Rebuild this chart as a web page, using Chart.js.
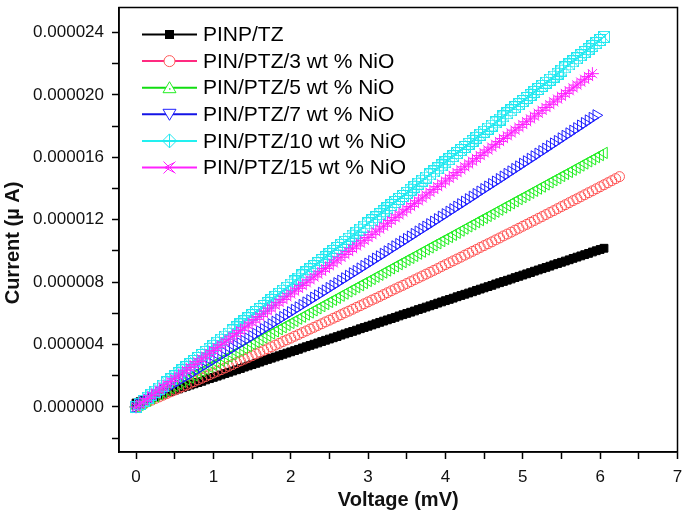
<!DOCTYPE html>
<html>
<head>
<meta charset="utf-8">
<script src="https://cdn.jsdelivr.net/npm/chart.js@4"></script>
<style>
  html, body { margin: 0; padding: 0; background: #fff; }
  #wrap { width: 685px; height: 520px; }
</style>
</head>
<body>
<div id="wrap"><canvas id="chart" width="685" height="520"></canvas></div>
<script>
// I-V data (current in units of 1e-6, voltage in mV)
const seriesNames = ['PINP/TZ', 'PIN/PTZ/3 wt % NiO', 'PIN/PTZ/5 wt % NiO',
  'PIN/PTZ/7 wt % NiO', 'PIN/PTZ/10 wt % NiO', 'PIN/PTZ/15 wt % NiO']

const voltage = [
  0, 0.05, 0.1, 0.15, 0.2, 0.25, 0.3, 0.35, 0.4, 0.45,
  0.5, 0.55, 0.6, 0.65, 0.7, 0.75, 0.8, 0.85, 0.9, 0.95,
  1, 1.05, 1.1, 1.15, 1.2, 1.25, 1.3, 1.35, 1.4, 1.45,
  1.5, 1.55, 1.6, 1.65, 1.7, 1.75, 1.8, 1.85, 1.9, 1.95,
  2, 2.05, 2.1, 2.15, 2.2, 2.25, 2.3, 2.35, 2.4, 2.45,
  2.5, 2.55, 2.6, 2.65, 2.7, 2.75, 2.8, 2.85, 2.9, 2.95,
  3, 3.05, 3.1, 3.15, 3.2, 3.25, 3.3, 3.35, 3.4, 3.45,
  3.5, 3.55, 3.6, 3.65, 3.7, 3.75, 3.8, 3.85, 3.9, 3.95,
  4, 4.05, 4.1, 4.15, 4.2, 4.25, 4.3, 4.35, 4.4, 4.45,
  4.5, 4.55, 4.6, 4.65, 4.7, 4.75, 4.8, 4.85, 4.9, 4.95,
  5, 5.05, 5.1, 5.15, 5.2, 5.25, 5.3, 5.35, 5.4, 5.45,
  5.5, 5.55, 5.6, 5.65, 5.7, 5.75, 5.8, 5.85, 5.9, 5.95,
  6, 6.05, 6.1, 6.15, 6.2, 6.25
]

const currentPinp = [
  0.25, 0.33, 0.41, 0.50, 0.58, 0.66, 0.74, 0.82, 0.91, 0.99,
  1.07, 1.15, 1.23, 1.32, 1.40, 1.48, 1.56, 1.64, 1.73, 1.81,
  1.89, 1.97, 2.05, 2.14, 2.22, 2.30, 2.38, 2.46, 2.55, 2.63,
  2.71, 2.79, 2.87, 2.96, 3.04, 3.12, 3.20, 3.28, 3.37, 3.45,
  3.53, 3.61, 3.69, 3.78, 3.86, 3.94, 4.02, 4.10, 4.19, 4.27,
  4.35, 4.43, 4.51, 4.60, 4.68, 4.76, 4.84, 4.92, 5.01, 5.09,
  5.17, 5.25, 5.33, 5.42, 5.50, 5.58, 5.66, 5.74, 5.83, 5.91,
  5.99, 6.07, 6.15, 6.24, 6.32, 6.40, 6.48, 6.56, 6.65, 6.73,
  6.81, 6.89, 6.97, 7.06, 7.14, 7.22, 7.30, 7.38, 7.47, 7.55,
  7.63, 7.71, 7.79, 7.88, 7.96, 8.04, 8.12, 8.20, 8.29, 8.37,
  8.45, 8.53, 8.61, 8.70, 8.78, 8.86, 8.94, 9.02, 9.11, 9.19,
  9.27, 9.35, 9.43, 9.52, 9.60, 9.68, 9.76, 9.84, 9.93, 10.01,
  10.09, 10.17
]

const currentNiO3 = [
  0, 0.11, 0.21, 0.32, 0.43, 0.54, 0.64, 0.75, 0.86, 0.97,
  1.08, 1.18, 1.29, 1.40, 1.51, 1.62, 1.73, 1.84, 1.95, 2.06,
  2.17, 2.28, 2.39, 2.50, 2.61, 2.72, 2.84, 2.95, 3.06, 3.17,
  3.28, 3.40, 3.51, 3.62, 3.73, 3.85, 3.96, 4.07, 4.19, 4.30,
  4.41, 4.53, 4.64, 4.76, 4.87, 4.99, 5.10, 5.22, 5.33, 5.45,
  5.56, 5.68, 5.79, 5.91, 6.03, 6.14, 6.26, 6.38, 6.49, 6.61,
  6.73, 6.85, 6.96, 7.08, 7.20, 7.32, 7.44, 7.56, 7.68, 7.79,
  7.91, 8.03, 8.15, 8.27, 8.39, 8.51, 8.63, 8.75, 8.87, 9.00,
  9.12, 9.24, 9.36, 9.48, 9.60, 9.73, 9.85, 9.97, 10.09, 10.22,
  10.34, 10.46, 10.58, 10.71, 10.83, 10.96, 11.08, 11.20, 11.33, 11.45,
  11.58, 11.70, 11.83, 11.95, 12.08, 12.20, 12.33, 12.46, 12.58, 12.71,
  12.84, 12.96, 13.09, 13.22, 13.34, 13.47, 13.60, 13.73, 13.85, 13.98,
  14.11, 14.24, 14.37, 14.50, 14.63, 14.76
]

const currentNiO5 = [
  0, 0.13, 0.27, 0.40, 0.54, 0.67, 0.81, 0.94, 1.08, 1.21,
  1.35, 1.48, 1.61, 1.75, 1.88, 2.02, 2.15, 2.29, 2.42, 2.56,
  2.69, 2.82, 2.96, 3.09, 3.23, 3.36, 3.50, 3.63, 3.77, 3.90,
  4.04, 4.17, 4.30, 4.44, 4.57, 4.71, 4.84, 4.98, 5.11, 5.25,
  5.38, 5.51, 5.65, 5.78, 5.92, 6.05, 6.19, 6.32, 6.46, 6.59,
  6.73, 6.86, 6.99, 7.13, 7.26, 7.40, 7.53, 7.67, 7.80, 7.94,
  8.07, 8.20, 8.34, 8.47, 8.61, 8.74, 8.88, 9.01, 9.15, 9.28,
  9.42, 9.55, 9.68, 9.82, 9.95, 10.09, 10.22, 10.36, 10.49, 10.63,
  10.76, 10.89, 11.03, 11.16, 11.30, 11.43, 11.57, 11.70, 11.84, 11.97,
  12.11, 12.24, 12.37, 12.51, 12.64, 12.78, 12.91, 13.05, 13.18, 13.32,
  13.45, 13.58, 13.72, 13.85, 13.99, 14.12, 14.26, 14.39, 14.53, 14.66,
  14.80, 14.93, 15.06, 15.20, 15.33, 15.47, 15.60, 15.74, 15.87, 16.01,
  16.14, 16.28
]

const currentNiO7 = [
  0, 0.15, 0.30, 0.45, 0.60, 0.75, 0.90, 1.05, 1.20, 1.35,
  1.50, 1.65, 1.80, 1.95, 2.10, 2.25, 2.40, 2.55, 2.70, 2.86,
  3.01, 3.16, 3.31, 3.46, 3.61, 3.77, 3.92, 4.07, 4.22, 4.38,
  4.53, 4.68, 4.84, 4.99, 5.14, 5.30, 5.45, 5.61, 5.76, 5.91,
  6.07, 6.22, 6.38, 6.53, 6.69, 6.84, 7.00, 7.15, 7.31, 7.46,
  7.62, 7.77, 7.93, 8.09, 8.24, 8.40, 8.56, 8.71, 8.87, 9.03,
  9.18, 9.34, 9.50, 9.65, 9.81, 9.97, 10.13, 10.29, 10.44, 10.60,
  10.76, 10.92, 11.08, 11.24, 11.40, 11.55, 11.71, 11.87, 12.03, 12.19,
  12.35, 12.51, 12.67, 12.83, 12.99, 13.15, 13.31, 13.47, 13.64, 13.80,
  13.96, 14.12, 14.28, 14.44, 14.60, 14.76, 14.93, 15.09, 15.25, 15.41,
  15.58, 15.74, 15.90, 16.06, 16.23, 16.39, 16.55, 16.72, 16.88, 17.04,
  17.21, 17.37, 17.53, 17.70, 17.86, 18.03, 18.19, 18.36, 18.52, 18.69
]

const currentNiO10 = [
  0, 0.20, 0.39, 0.59, 0.78, 0.98, 1.18, 1.37, 1.57, 1.76,
  1.96, 2.16, 2.35, 2.55, 2.74, 2.94, 3.14, 3.33, 3.53, 3.72,
  3.92, 4.12, 4.31, 4.51, 4.70, 4.90, 5.10, 5.29, 5.49, 5.68,
  5.88, 6.08, 6.27, 6.47, 6.66, 6.86, 7.06, 7.25, 7.45, 7.64,
  7.84, 8.04, 8.23, 8.43, 8.62, 8.82, 9.02, 9.21, 9.41, 9.60,
  9.80, 10.00, 10.19, 10.39, 10.58, 10.78, 10.98, 11.17, 11.37, 11.56,
  11.76, 11.96, 12.15, 12.35, 12.54, 12.74, 12.94, 13.13, 13.33, 13.52,
  13.72, 13.92, 14.11, 14.31, 14.50, 14.70, 14.90, 15.09, 15.29, 15.48,
  15.68, 15.88, 16.07, 16.27, 16.46, 16.66, 16.86, 17.05, 17.25, 17.44,
  17.64, 17.84, 18.03, 18.23, 18.42, 18.62, 18.82, 19.01, 19.21, 19.40,
  19.60, 19.80, 19.99, 20.19, 20.38, 20.58, 20.78, 20.97, 21.17, 21.36,
  21.56, 21.76, 21.95, 22.15, 22.34, 22.54, 22.74, 22.93, 23.13, 23.32,
  23.52, 23.72
]

const currentNiO15 = [
  0, 0.18, 0.36, 0.54, 0.72, 0.91, 1.09, 1.27, 1.45, 1.63,
  1.81, 1.99, 2.17, 2.35, 2.53, 2.72, 2.90, 3.08, 3.26, 3.44,
  3.62, 3.80, 3.98, 4.16, 4.34, 4.53, 4.71, 4.89, 5.07, 5.25,
  5.43, 5.61, 5.79, 5.97, 6.15, 6.34, 6.52, 6.70, 6.88, 7.06,
  7.24, 7.42, 7.60, 7.78, 7.96, 8.15, 8.33, 8.51, 8.69, 8.87,
  9.05, 9.23, 9.41, 9.59, 9.77, 9.96, 10.14, 10.32, 10.50, 10.68,
  10.86, 11.04, 11.22, 11.40, 11.58, 11.77, 11.95, 12.13, 12.31, 12.49,
  12.67, 12.85, 13.03, 13.21, 13.39, 13.58, 13.76, 13.94, 14.12, 14.30,
  14.48, 14.66, 14.84, 15.02, 15.20, 15.39, 15.57, 15.75, 15.93, 16.11,
  16.29, 16.47, 16.65, 16.83, 17.01, 17.20, 17.38, 17.56, 17.74, 17.92,
  18.10, 18.28, 18.46, 18.64, 18.82, 19.01, 19.19, 19.37, 19.55, 19.73,
  19.91, 20.09, 20.27, 20.45, 20.63, 20.82, 21.00, 21.18, 21.36
]

const xTicks = [0, 0.5, 1, 1.5, 2, 2.5, 3, 3.5, 4, 4.5, 5, 5.5, 6, 6.5, 7]
const yTicks = [-2, 0, 2, 4, 6, 8, 10, 12, 14, 16, 18, 20, 22, 24]

const allCurrents = [currentPinp, currentNiO3, currentNiO5, currentNiO7, currentNiO10, currentNiO15]

// colours: line colour (legend) and symbol colour (plot)
const lineColors = ['#000000', '#ff2a80', '#11dd11', '#1414e6', '#22f0f0', '#ff22ff']
const symbolColors = ['#000000', '#ff5555', '#22ee22', '#2020ff', '#22e8f0', '#ff22ff']

function boxCross(color, size) {
  const c = document.createElement('canvas')
  c.width = size
  c.height = size
  const g = c.getContext('2d')
  g.strokeStyle = color
  g.lineWidth = 1
  g.strokeRect(0.5, 0.5, size - 1, size - 1)
  g.beginPath()
  g.moveTo(0.5, 0.5)
  g.lineTo(size - 0.5, size - 0.5)
  g.moveTo(size - 0.5, 0.5)
  g.lineTo(0.5, size - 0.5)
  g.stroke()
  return c
}

const pointStyles = ['rect', 'circle', 'triangle', 'triangle', boxCross(symbolColors[4], 12), 'star']
const pointRotations = [0, 0, -90, 90, 0, 0]
const pointRadii = [5.5, 5, 6.5, 6.5, 6, 6.5]

const datasets = allCurrents.map((values, i) => ({
  label: seriesNames[i],
  data: values.map((y, k) => ({ x: voltage[k], y: y })),
  showLine: false,
  borderColor: lineColors[i],
  pointStyle: pointStyles[i],
  pointRotation: pointRotations[i],
  pointRadius: pointRadii[i],
  pointBorderColor: symbolColors[i],
  pointBackgroundColor: i === 0 ? '#000000' : 'rgba(0,0,0,0)',
  pointBorderWidth: 1,
  order: 6 - i
}))

// legend drawn inside the plot, like the original figure
function drawLegendMarker(ctx, i, x, y) {
  ctx.save()
  ctx.lineWidth = 1
  ctx.strokeStyle = symbolColors[i]
  ctx.fillStyle = '#ffffff'
  ctx.beginPath()
  if (i === 0) {
    ctx.fillStyle = '#000'
    ctx.fillRect(x - 4.5, y - 4.5, 9, 9)
  } else if (i === 1) {
    ctx.arc(x, y, 5.5, 0, Math.PI * 2)
    ctx.fill()
    ctx.stroke()
  } else if (i === 2) {
    ctx.moveTo(x, y - 6)
    ctx.lineTo(x + 6.5, y + 5)
    ctx.lineTo(x - 6.5, y + 5)
    ctx.closePath()
    ctx.fill()
    ctx.stroke()
    ctx.fillStyle = symbolColors[i]
    ctx.fillRect(x - 0.5, y + 0.5, 1.5, 1.5)
  } else if (i === 3) {
    ctx.moveTo(x, y + 6)
    ctx.lineTo(x + 6.5, y - 5)
    ctx.lineTo(x - 6.5, y - 5)
    ctx.closePath()
    ctx.fill()
    ctx.stroke()
  } else if (i === 4) {
    ctx.moveTo(x, y - 7)
    ctx.lineTo(x + 7, y)
    ctx.lineTo(x, y + 7)
    ctx.lineTo(x - 7, y)
    ctx.closePath()
    ctx.moveTo(x, y - 7)
    ctx.lineTo(x, y + 7)
    ctx.moveTo(x - 7, y)
    ctx.lineTo(x + 7, y)
    ctx.stroke()
  } else {
    ctx.moveTo(x - 6, y - 6)
    ctx.lineTo(x + 6, y + 6)
    ctx.moveTo(x - 6, y + 6)
    ctx.lineTo(x + 6, y - 6)
    ctx.moveTo(x + 5, y - 5)
    ctx.lineTo(x - 5, y)
    ctx.lineTo(x + 5, y + 5)
    ctx.stroke()
  }
  ctx.restore()
}

const insideLegend = {
  id: 'insideLegend',
  afterDatasetsDraw(chart) {
    const ctx = chart.ctx
    const area = chart.chartArea
    const x0 = area.left + 23
    const x1 = area.left + 78
    const mx = (x0 + x1) / 2
    ctx.save()
    ctx.font = '21px "Liberation Sans", Arial, sans-serif'
    ctx.textBaseline = 'middle'
    chart.data.datasets.forEach((ds, i) => {
      const y = area.top + 27 + i * 26.6
      ctx.strokeStyle = lineColors[i]
      ctx.lineWidth = 2
      ctx.beginPath()
      ctx.moveTo(x0, y)
      ctx.lineTo(x1, y)
      ctx.stroke()
      drawLegendMarker(ctx, i, mx, y)
      ctx.fillStyle = '#000'
      ctx.fillText(ds.label, x1 + 6, y + 1)
    })
    ctx.restore()
  }
}

// box round the plot and the y title, which sits a little below the middle in the original
const frame = {
  id: 'frame',
  afterDraw(chart) {
    const a = chart.chartArea
    const ctx = chart.ctx
    ctx.save()
    ctx.strokeStyle = '#000'
    ctx.lineWidth = 1.5
    ctx.strokeRect(a.left, a.top, a.right - a.left, a.bottom - a.top)
    ctx.translate(13, 243)
    ctx.rotate(-Math.PI / 2)
    ctx.font = 'bold 20px "Liberation Sans", Arial, sans-serif'
    ctx.fillStyle = '#111'
    ctx.textAlign = 'center'
    ctx.textBaseline = 'middle'
    ctx.fillText('Current (\u00b5 A)', 0, 0)
    ctx.restore()
  }
}

// the plot box is placed by hand, so drop the padding that tick labels ask for
function noPadding(scale) {
  scale.paddingTop = 0
  scale.paddingBottom = 0
  scale.paddingLeft = 0
  scale.paddingRight = 0
}

const tickFont = { family: '"Liberation Sans", Arial, sans-serif', size: 17 }
const titleFont = { family: '"Liberation Sans", Arial, sans-serif', size: 20, weight: 'bold' }

new Chart(document.getElementById('chart'), {
  type: 'scatter',
  data: { datasets: datasets },
  plugins: [insideLegend, frame],
  options: {
    responsive: false,
    animation: false,
    events: [],
    layout: { padding: { top: 2, right: 2, left: 0, bottom: 0 } },
    plugins: {
      legend: { display: false },
      tooltip: { enabled: false }
    },
    scales: {
      x: {
        type: 'linear',
        min: -0.22,
        max: 7,
        afterBuildTicks: scale => { scale.ticks = xTicks.map(v => ({ value: v })) },
        afterFit: scale => {
          scale.height = 68
          noPadding(scale)
        },
        grid: { drawOnChartArea: false, drawTicks: true, tickLength: 7, tickColor: '#000', tickWidth: 1.5 },
        border: { display: true, color: '#000', width: 1.5 },
        ticks: {
          color: '#111',
          font: tickFont,
          padding: 8,
          maxRotation: 0,
          autoSkip: false,
          callback: v => Number.isInteger(v) ? String(v) : ''
        },
        title: { display: true, text: 'Voltage (mV)', color: '#111', font: titleFont, padding: { top: 0, bottom: 8 } }
      },
      y: {
        type: 'linear',
        min: -2.89,
        max: 25.6,
        afterBuildTicks: scale => { scale.ticks = yTicks.map(v => ({ value: v })) },
        afterFit: scale => {
          scale.width = 119
          noPadding(scale)
        },
        grid: { drawOnChartArea: false, drawTicks: true, tickLength: 7, tickColor: '#000', tickWidth: 1.5 },
        border: { display: true, color: '#000', width: 1.5 },
        ticks: {
          color: '#111',
          font: tickFont,
          padding: 8,
          autoSkip: false,
          callback: v => v % 4 === 0 ? (v * 1e-6).toFixed(6) : ''
        },
        title: { display: false }
      }
    }
  }
})
</script>
</body>
</html>
